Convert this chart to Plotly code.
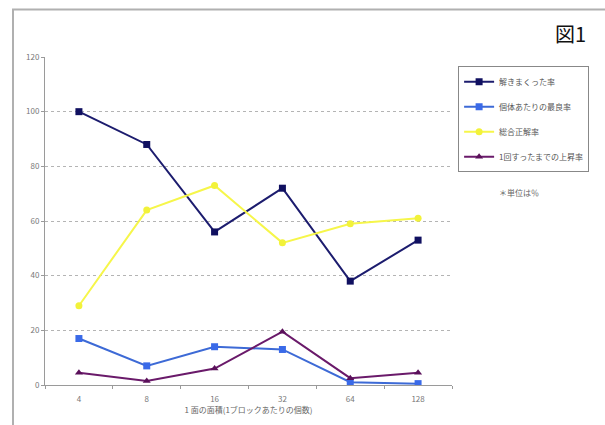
import plotly.graph_objects as go

categories = ["4", "8", "16", "32", "64", "128"]
series_names = ["解きまくった率", "個体あたりの最良率", "総合正解率", "1回すったまでの上昇率"]
s1 = [100, 88, 56, 72, 38, 53]
s2 = [17, 7, 14, 13, 1, 0.5]
s3 = [29, 64, 73, 52, 59, 61]
s4 = [4.5, 1.5, 6, 19.5, 2.5, 4.5]
y_ticks = [0, 20, 40, 60, 80, 100, 120]

line_colors = ["#1c1c6e", "#3d6ad6", "#f6f64a", "#6a1a6a"]
marker_colors = ["#101060", "#3a6ae8", "#f2f23a", "#5a105a"]
symbols = ["square", "square", "circle", "triangle-up"]
values = [s1, s2, s3, s4]

FONT = "Noto Sans CJK JP"

fig = go.Figure()
for i, (name, vals) in enumerate(zip(series_names, values)):
    fig.add_trace(go.Scatter(
        x=categories, y=vals, name=name, mode="lines+markers",
        legendgroup=f"g{i}",
        line=dict(color=line_colors[i], width=2),
        marker=dict(symbol=symbols[i], size=7, color=marker_colors[i]),
    ))

fig.update_layout(
    width=605, height=425,
    margin=dict(l=45, r=153, t=57, b=40),
    paper_bgcolor="white", plot_bgcolor="white",
    font=dict(family=FONT, size=8, color="#666666"),
    showlegend=True,
    legend=dict(
        x=1.015, y=0.972, xanchor="left", yanchor="top",
        bordercolor="#888888", borderwidth=1, bgcolor="white",
        font=dict(size=8, color="#555555", family=FONT),
        tracegroupgap=6, itemwidth=30,
    ),
    xaxis=dict(
        type="category", range=[-0.5, 5.5],
        showline=True, linecolor="#9a9a9a", linewidth=1,
        ticks="outside", ticklen=3, tickcolor="#9a9a9a", tickson="boundaries",
        ticklabelstandoff=6,
        showgrid=False, zeroline=False,
        tickfont=dict(size=8, color="#777777"),
        title=dict(text="1 面の面積(1ブロックあたりの個数)", font=dict(size=8, color="#666666"), standoff=2),
    ),
    yaxis=dict(
        range=[0, 120], tickvals=y_ticks,
        showline=True, linecolor="#9a9a9a", linewidth=1,
        ticks="outside", ticklen=3, tickcolor="#9a9a9a",
        showgrid=True, gridcolor="#b4b4b4", griddash="dot", gridwidth=1,
        zeroline=False,
        tickfont=dict(size=8, color="#777777"),
    ),
    shapes=[
        dict(type="rect", xref="paper", yref="paper",
             x0=-0.0786, x1=1.6, y0=-0.3, y1=1.1447,
             line=dict(color="#b0b0b0", width=2), fillcolor="rgba(0,0,0,0)", layer="below"),
    ],
    annotations=[
        dict(text="図1", xref="paper", yref="paper", x=1.292, y=1.072,
             xanchor="center", yanchor="middle", showarrow=False,
             font=dict(size=20, color="#111111", family=FONT)),
        dict(text="＊単位は％", xref="paper", yref="paper", x=1.11, y=0.586,
             xanchor="left", yanchor="middle", showarrow=False,
             font=dict(size=8, color="#666666", family=FONT)),
    ],
)

fig.write_html("out.html")
